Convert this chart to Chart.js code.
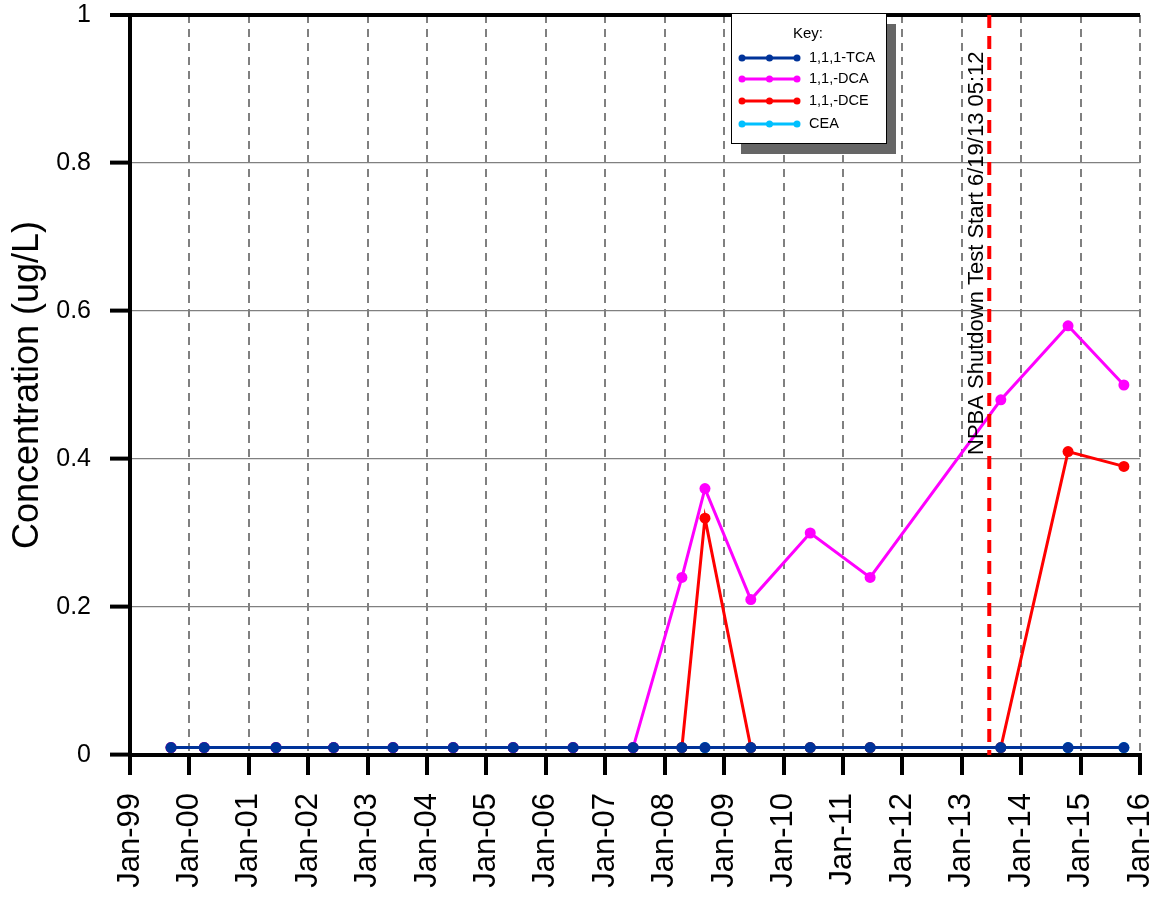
<!DOCTYPE html>
<html>
<head>
<meta charset="utf-8">
<script src="https://cdn.jsdelivr.net/npm/chart.js@4.4.0/dist/chart.umd.min.js"></script>
<style>
  html, body { margin: 0; padding: 0; background: #fff; }
  #wrap { width: 1154px; height: 900px; position: relative; }
</style>
</head>
<body>
<div id="wrap"><canvas id="chart"></canvas></div>
<script>
// sample dates and concentrations per compound
const sampleDates = ['1999-09-10', '2000-04-01', '2001-06-17', '2002-06-06', '2003-06-06', '2004-06-10',
  '2005-06-14', '2006-06-17', '2007-06-21', '2008-04-16', '2008-09-05', '2009-06-14',
  '2010-06-14', '2011-06-17', '2013-08-29', '2014-10-16', '2015-09-24'];
const tca = [0.01, 0.01, 0.01, 0.01, 0.01, 0.01, 0.01, 0.01, 0.01, 0.01, 0.01, 0.01, 0.01, 0.01, 0.01, 0.01, 0.01];
const dca = [0.01, 0.01, 0.01, 0.01, 0.01, 0.01, 0.01, 0.01, 0.01, 0.24, 0.36, 0.21, 0.30, 0.24, 0.48, 0.58, 0.50];
const dce = [0.01, 0.01, 0.01, 0.01, 0.01, 0.01, 0.01, 0.01, 0.01, 0.01, 0.32, 0.01, 0.01, 0.01, 0.01, 0.41, 0.39];
const cea = [0.01, 0.01, 0.01, 0.01, 0.01, 0.01, 0.01, 0.01, 0.01, 0.01, 0.01, 0.01, 0.01, 0.01, 0.01, 0.01, 0.01];

const seriesNames = ['1,1,1-TCA', '1,1,-DCA', '1,1,-DCE', 'CEA'];
const seriesColors = ['#003399', '#ff00ff', '#ff0000', '#00c0ff'];

const xTickLabels = ['Jan-99', 'Jan-00', 'Jan-01', 'Jan-02', 'Jan-03', 'Jan-04', 'Jan-05', 'Jan-06', 'Jan-07',
  'Jan-08', 'Jan-09', 'Jan-10', 'Jan-11', 'Jan-12', 'Jan-13', 'Jan-14', 'Jan-15', 'Jan-16'];
const yTickLabels = ['0', '0.2', '0.4', '0.6', '0.8', '1'];

const shutdownDate = '2013-06-19';
const shutdownLabel = 'NPBA Shutdown Test Start 6/19/13 05:12';

const FONT = "'Liberation Sans', Arial, sans-serif";

// date string -> decimal year
function toYear(s) {
    const p = s.split('-').map(Number);
    const start = Date.UTC(p[0], 0, 1);
    const end = Date.UTC(p[0] + 1, 0, 1);
    return p[0] + (Date.UTC(p[0], p[1] - 1, p[2]) - start) / (end - start);
}

function makeSeries(values) {
    return sampleDates.map((d, i) => ({ x: toYear(d), y: values[i] }));
}

const allValues = [tca, dca, dce, cea];

const datasets = seriesNames.map((name, i) => ({
    label: name,
    data: makeSeries(allValues[i]),
    borderColor: seriesColors[i],
    backgroundColor: seriesColors[i],
    borderWidth: 3,
    pointRadius: 5.5,
    pointHoverRadius: 5.5,
    pointBorderWidth: 0,
    tension: 0
}));

// axes lines drawn by hand (left + bottom)
const axesPlugin = {
    id: 'axes',
    beforeDatasetsDraw(chart) {
        const { ctx, chartArea: a } = chart;
        ctx.save();
        ctx.strokeStyle = '#000';
        ctx.lineWidth = 4;
        ctx.beginPath();
        ctx.moveTo(a.left, a.top - 2);
        ctx.lineTo(a.left, a.bottom + 2);
        ctx.moveTo(a.left - 2, a.bottom);
        ctx.lineTo(a.right + 2, a.bottom);
        ctx.stroke();
        ctx.restore();
    }
};

// shutdown marker line + label
const shutdownPlugin = {
    id: 'shutdown',
    afterDatasetsDraw(chart) {
        const { ctx, chartArea: a, scales } = chart;
        const x = scales.x.getPixelForValue(toYear(shutdownDate));
        ctx.save();
        ctx.strokeStyle = '#ff0000';
        ctx.lineWidth = 4;
        ctx.setLineDash([13, 8]);
        ctx.beginPath();
        ctx.moveTo(x, a.top);
        ctx.lineTo(x, a.bottom);
        ctx.stroke();
        ctx.setLineDash([]);
        ctx.translate(x - 6, 455);
        ctx.rotate(-Math.PI / 2);
        ctx.fillStyle = '#000';
        ctx.font = '22px ' + FONT;
        ctx.textAlign = 'left';
        ctx.textBaseline = 'alphabetic';
        ctx.fillText(shutdownLabel, 0, 0);
        ctx.restore();
    }
};

// "Key:" box with drop shadow
const keyPlugin = {
    id: 'key',
    afterDraw(chart) {
        const ctx = chart.ctx;
        const bx = 731, by = 13, bw = 155, bh = 130;
        ctx.save();
        ctx.fillStyle = '#666666';
        ctx.fillRect(bx + 10, by + 11, bw, bh);
        ctx.fillStyle = '#fff';
        ctx.fillRect(bx, by, bw, bh);
        ctx.strokeStyle = '#000';
        ctx.lineWidth = 1;
        ctx.strokeRect(bx + 0.5, by + 0.5, bw, bh);

        ctx.fillStyle = '#000';
        ctx.font = '15px ' + FONT;
        ctx.textAlign = 'center';
        ctx.textBaseline = 'middle';
        ctx.fillText('Key:', bx + 77, by + 21);

        const rows = [58, 79, 101, 124];
        chart.data.datasets.forEach((ds, i) => {
            const y = rows[i];
            ctx.strokeStyle = ds.borderColor;
            ctx.fillStyle = ds.borderColor;
            ctx.lineWidth = 3;
            ctx.beginPath();
            ctx.moveTo(742, y);
            ctx.lineTo(797, y);
            ctx.stroke();
            [742, 769.5, 797].forEach(px => {
                ctx.beginPath();
                ctx.arc(px, y, 3.5, 0, Math.PI * 2);
                ctx.fill();
            });
            ctx.fillStyle = '#000';
            ctx.font = '14.5px ' + FONT;
            ctx.textAlign = 'left';
            ctx.fillText(ds.label, 809, y);
        });
        ctx.restore();
    }
};

new Chart(document.getElementById('chart'), {
    type: 'line',
    data: { datasets: datasets },
    options: {
        responsive: true,
        maintainAspectRatio: false,
        animation: false,
        events: [],
        layout: { padding: { top: 15, right: 14, left: 0, bottom: 0 } },
        plugins: {
            legend: { display: false },
            tooltip: { enabled: false }
        },
        scales: {
            x: {
                type: 'linear',
                min: 1999,
                max: 2016,
                afterFit(scale) {
                    scale.height = 145;
                    scale.paddingLeft = 0;
                    scale.paddingRight = 0;
                },
                afterBuildTicks(scale) {
                    scale.ticks = xTickLabels.map((t, i) => ({ value: 1999 + i }));
                },
                ticks: {
                    autoSkip: false,
                    maxRotation: 90,
                    minRotation: 90,
                    padding: 18,
                    color: '#000',
                    font: { family: FONT, size: 31 },
                    callback: (v, i) => xTickLabels[i]
                },
                grid: {
                    color: '#808080',
                    lineWidth: 2,
                    tickColor: '#000',
                    tickWidth: 4,
                    tickLength: 20,
                    tickBorderDash: []
                },
                border: { display: false, dash: [8, 6] }
            },
            y: {
                min: 0,
                max: 1,
                afterFit(scale) {
                    scale.width = 130;
                    scale.paddingTop = 0;
                    scale.paddingBottom = 0;
                },
                afterBuildTicks(scale) {
                    scale.ticks = yTickLabels.map(t => ({ value: Number(t) }));
                },
                ticks: {
                    padding: 19,
                    color: '#000',
                    font: { family: FONT, size: 25 },
                    callback: (v, i) => yTickLabels[i]
                },
                grid: {
                    color: ctx => ctx.tick && ctx.tick.value === 1 ? '#000' : (ctx.tick && ctx.tick.value === 0 ? 'rgba(0,0,0,0)' : '#808080'),
                    lineWidth: ctx => ctx.tick && ctx.tick.value === 1 ? 4 : 1.2,
                    tickColor: '#000',
                    tickWidth: 4,
                    tickLength: 20
                },
                border: { display: false },
                title: {
                    display: true,
                    text: 'Concentration (ug/L)',
                    color: '#000',
                    font: { family: FONT, size: 36, lineHeight: 1 },
                    padding: { top: 10, bottom: 0 }
                }
            }
        }
    },
    plugins: [axesPlugin, shutdownPlugin, keyPlugin]
});
</script>
</body>
</html>
